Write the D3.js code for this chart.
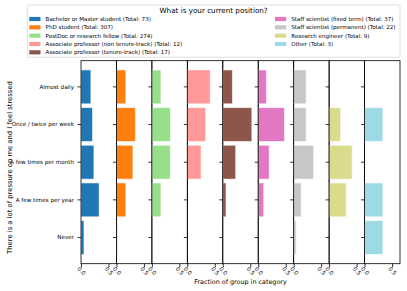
<!DOCTYPE html>
<html>
<head>
<meta charset="UTF-8">
<title>Stress by position</title>
<script src="https://cdn.jsdelivr.net/npm/d3@7"></script>
<style>
  body { margin: 0; background: #fff; }
  text { font-family: "DejaVu Sans", sans-serif; fill: #000; }
  .spine { fill: none; stroke: #000; stroke-width: 0.8; }
  .tick line { stroke: #000; stroke-width: 0.8; }
</style>
</head>
<body>
<svg width="407" height="291"></svg>
<script>
// answers (rows of each panel)
var answers = ["Almost daily", "Once / twice per week", "A few times per month", "A few times per year", "Never"];

// groups (one panel each)
var groups = [
  "Bachelor or Master student",
  "PhD student",
  "PostDoc or research fellow",
  "Associate professor (non tenure-track)",
  "Associate professor (tenure-track)",
  "Staff scientist (fixed term)",
  "Staff scientist (permanent)",
  "Research engineer",
  "Other"
];
var totals = [73, 307, 274, 12, 17, 37, 22, 9, 3];
var colors = ["#1f77b4", "#ff7f0e", "#98df8a", "#ff9896", "#8c564b", "#e377c2", "#c7c7c7", "#dbdb8d", "#9edae5"];

// fraction of each group giving each answer
var bachelor   = [0.18, 0.21, 0.235, 0.33, 0.055];
var phd        = [0.17, 0.345, 0.30, 0.17, 0.02];
var postdoc    = [0.165, 0.34, 0.335, 0.165, 0];
var assocNon   = [0.417, 0.333, 0.25, 0, 0];
var assocTen   = [0.176, 0.529, 0.235, 0.059, 0];
var staffFixed = [0.15, 0.478, 0.2, 0.10, 0];
var staffPerm  = [0.227, 0.227, 0.364, 0.136, 0.045];
var engineer   = [0, 0.21, 0.42, 0.31, 0];
var other      = [0, 0.333, 0, 0.333, 0.333];
var fractions = [bachelor, phd, postdoc, assocNon, assocTen, staffFixed, staffPerm, engineer, other];

var xTicks = [0, 0.5];

var svg = d3.select("svg");

var plotTop = 60.7, plotBottom = 263.7, plotLeft = 81, plotRight = 400;

var panel = d3.scaleBand().domain(d3.range(groups.length)).range([plotLeft, plotRight]);
var pw = panel.bandwidth();
var x = d3.scaleLinear().domain([0, 0.645]).range([0, pw]);
var y = d3.scaleBand().domain(answers).range([plotTop, plotBottom]).paddingInner(0.1).paddingOuter(0.245);

groups.forEach(function(g, i) {
  var p = svg.append("g").attr("transform", "translate(" + panel(i) + ",0)");

  p.selectAll("rect.bar")
    .data(fractions[i])
    .enter().append("rect")
    .attr("class", "bar")
    .attr("x", 0)
    .attr("y", function(d, j) { return y(answers[j]); })
    .attr("width", function(d) { return x(d); })
    .attr("height", y.bandwidth())
    .attr("fill", colors[i])
    .attr("stroke", "#fff")
    .attr("stroke-opacity", 0.6)
    .attr("stroke-width", 1)
    .style("display", function(d) { return d > 0 ? null : "none"; });

  var yAxis = d3.axisLeft(y).tickSize(3.5).tickPadding(3.5);
  if (i > 0) yAxis.tickFormat("");
  p.append("g").call(yAxis)
    .call(function(a) { a.select(".domain").remove(); })
    .selectAll("text").style("font-size", "5.6px");

  var xAxis = d3.axisBottom(x).tickValues(xTicks).tickFormat(d3.format(".1f")).tickSize(3.5).tickPadding(2);
  var xa = p.append("g").attr("transform", "translate(0," + plotBottom + ")").call(xAxis);
  xa.select(".domain").remove();
  xa.selectAll("text")
    .style("font-size", "5.6px")
    .attr("text-anchor", "middle")
    .attr("dy", "0.35em")
    .attr("y", 0)
    .attr("transform", "translate(0,7.3) rotate(45)");

  p.append("rect").attr("class", "spine")
    .attr("x", 0).attr("y", plotTop).attr("width", pw).attr("height", plotBottom - plotTop);
});

// axis titles
svg.append("text")
  .attr("x", (plotLeft + plotRight) / 2).attr("y", 284)
  .attr("text-anchor", "middle")
  .style("font-size", "6.4px")
  .text("Fraction of group in category");

svg.append("text")
  .attr("transform", "translate(11.8,167.5) rotate(-90)")
  .attr("text-anchor", "middle")
  .style("font-size", "6.8px")
  .text("There is a lot of pressure on me and I feel stressed");

// legend
var lg = svg.append("g");
lg.append("rect")
  .attr("x", 27.3).attr("y", 5).attr("width", 372.7).attr("height", 52.3)
  .attr("rx", 1.5)
  .attr("fill", "#fff").attr("fill-opacity", 0.8)
  .attr("stroke", "#d6d6d6").attr("stroke-width", 0.8);
lg.append("text")
  .attr("x", 213.6).attr("y", 13)
  .attr("text-anchor", "middle")
  .style("font-size", "7.2px")
  .text("What is your current position?");

var item = lg.selectAll("g.item")
  .data(groups)
  .enter().append("g")
  .attr("class", "item")
  .attr("transform", function(d, i) {
    var col = i < 5 ? 0 : 1, row = i < 5 ? i : i - 5;
    return "translate(" + (col ? 275 : 29.3) + "," + (19 + row * 8.33) + ")";
  });
item.append("rect")
  .attr("x", 0).attr("y", -2.1).attr("width", 11.2).attr("height", 4.2)
  .attr("fill", function(d, i) { return colors[i]; });
item.append("text")
  .attr("x", 16.3).attr("dy", "0.35em")
  .style("font-size", "5.55px")
  .text(function(d, i) { return d + " (Total: " + totals[i] + ")"; });
</script>
</body>
</html>
